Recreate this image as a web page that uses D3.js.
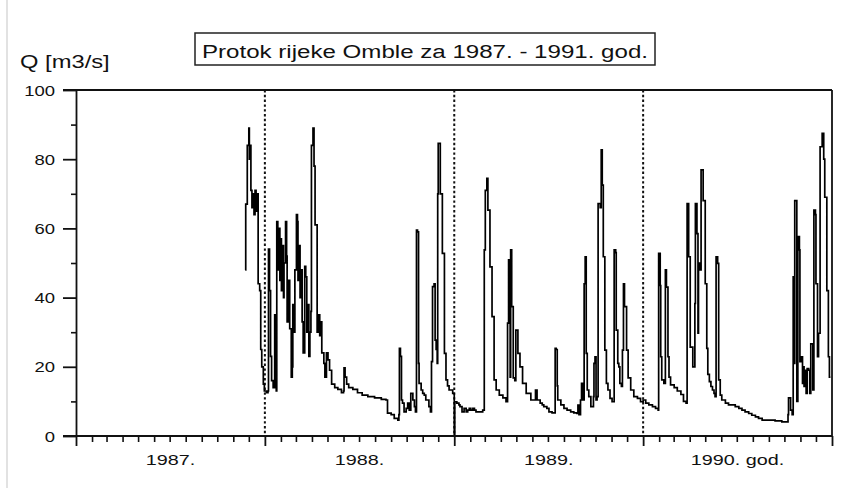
<!DOCTYPE html>
<html><head><meta charset="utf-8">
<script src="https://cdn.jsdelivr.net/npm/d3@7"></script>
<style>
body{margin:0;background:#fff}
svg{display:block}
text{font-family:"Liberation Sans",Arial,sans-serif;fill:#111}
</style>
</head><body><svg id="c" width="851" height="488"></svg>
<script>
// ---- data ----
const chartTitle = "Protok rijeke Omble za 1987. - 1991. god.";
const yAxisTitle = "Q [m3/s]";
const yMajorTicks = [0, 20, 40, 60, 80, 100];
const yMinorTicks = [10, 30, 50, 70, 90];
const yearStarts = [1987, 1988, 1989, 1990, 1991];
const yearLabels = ["1987.", "1988.", "1989.", "1990. god."];
const dividerYears = [1988, 1989, 1990];
// days since 1 Jan 1987 (step points) and discharge Q [m3/s]
const dayOffset = [
327,328,331,334,335,336,338,340,342,344,346,348,350,352,355,357,359,362,364,368,371,372,374,376,378,381,384,385,387,388,390,392,394,395,397,399,401,402,405,407,408,410,413,416,418,419,421,423,426,428,429,431,433,435,437,439,442,444,446,448,450,452,454,455,458,460,462,466,468,471,473,475,479,481,484,487,490,494,500,506,513,517,518,520,523,527,535,544,553,564,577,590,
599,602,609,615,622,624,625,627,629,631,634,638,641,644,647,651,654,656,658,660,662,663,667,670,673,676,682,685,687,689,692,694,696,698,699,700,704,708,712,715,718,721,728,731,732,736,740,742,746,750,754,757,760,763,767,770,773,779,786,789,791,794,796,800,804,808,812,818,825,831,834,836,839,840,842,845,848,850,854,858,863,870,879,
885,888,891,897,901,904,910,914,920,926,928,930,931,937,943,949,956,962,968,970,972,975,977,980,982,984,986,988,991,995,1000,1001,1003,1005,1007,1009,1013,1015,1017,1019,1022,1025,1028,1032,1036,1040,1043,1044,1047,1049,1051,1054,1056,1058,1060,1064,1067,1072,1078,1085,1091,1096,1101,1107,1114,1120,1125,1126,1129,1130,1132,1136,1139,1141,1144,1146,1149,1156,1162,1169,1174,1179,
1181,1184,1187,1192,1196,1197,1200,1202,1203,1206,1208,1212,1216,1219,1221,1224,1227,1230,1233,1235,1237,1240,1242,1245,1248,1255,1261,1268,1274,1281,1287,1293,1300,1306,1313,1319,1326,1339,1351,1364,1375,1376,1377,1381,1384,1386,1388,1389,1393,1395,1398,1399,1402,1404,1406,1407,1409,1411,1413,1416,1418,1420,1424,1426,1429,1430,1433,1435,1438,1442,1445,1447,1451,1454,1456,1458
];
const flow = [
48,67,84,89,80,84,71,66,70,64,71,65,70,44,42,25,20,15,13,12.5,13,54,42,23,16,14,35,15,13,62,48,60,45,57,42,55,40,50,62,52,33,45,31,17,20,38,30,48,64,62,45,55,40,48,33,24,49,46,30,38,23,30,36,84,89,78,61,30,35,29,33,24,21,17,24,22,19,15,14,13.5,12.5,13,19.7,17,15,14,13.5,12.5,11.8,11.4,11,10.6,
10.4,6.6,6.2,5.1,4.6,6.2,25.3,23,10.4,9.5,7,8,9.5,7.5,12.3,10.4,8.5,7,59.5,59,21,15.2,13.3,12.3,11.8,10.4,8.5,7,21.5,43.2,44,27.7,25,21,70,84.6,70,52.8,23.9,16.2,14.5,13.3,12.3,0,9.9,9.5,9,8.5,7,8,7,7.5,8,7.5,8,7.5,7,7,7.5,53.8,71,74.5,65.3,48.9,34.5,16.2,13.3,11.8,11,9.9,32.6,50.9,17,53.8,37.4,16.8,16,30.6,23.9,20,15.2,12.3,10.4,
10.4,13.3,10.4,9.5,9,8.5,8,7,6.7,25.3,25,14.5,10.4,9,8,7.5,7,6.7,6.5,8.9,6.2,10.4,15.2,10.4,44,51.8,23.9,13.3,11.4,8.5,11.4,21,22.9,10.4,11.4,67.2,66,82.7,72.5,51.8,24.8,15.2,13.3,10.9,9.9,53.8,53,30.6,21,20,15.2,14.3,24.8,44,37.4,24.8,16.8,13.3,11.4,10.9,9.9,10.4,9.5,9,8.5,8,7.5,52.8,43.5,22.9,16.2,15.2,48,43,22.9,17,14.8,14,13,12,10,9.5,
67.2,51.8,25.7,20,38.3,67.2,58.5,29.7,50,48,76.9,68,44,25.3,17.8,15.7,14.3,13.3,12.3,11.4,51.8,49.9,16.2,11.8,10.4,9.5,9,9,8.5,8,7.5,7,6.5,6,5.5,5.1,4.6,4.6,4.4,4.1,4.1,6.2,11,7.5,6.2,46,21,68,10,57.6,53.8,21.5,22.9,15.2,20,14.3,19,12.3,19.5,19,12.3,26.6,13.3,65.3,64,44,22.9,29.7,83.6,87.5,80,69,42,22.9,17,17
];

// ---- chart ----
const svg = d3.select("#c");
const L = 76, R = 832, T = 90, B = 436;
const SX = 1.32; // horizontal stretch of the original lettering
const ink = "#111";

svg.append("rect").attr("width", 851).attr("height", 488).attr("fill", "#fff");
svg.append("line").attr("x1", 7).attr("x2", 7).attr("y1", 0).attr("y2", 488)
  .attr("stroke", "#e2e2e2").attr("stroke-width", 2);

const yr = v => new Date(Date.UTC(v, 0, 1));
const x = d3.scaleUtc().domain([yr(1987), yr(1991)]).range([L, R]);
const y = d3.scaleLinear().domain([0, 100]).range([B, T]);

const base = yr(1987);
const data = dayOffset.map((d, i) => ({ date: d3.utcDay.offset(base, d), q: flow[i] }));

// year dividers (dotted)
svg.append("g").selectAll("line").data(dividerYears).join("line")
  .attr("x1", d => x(yr(d))).attr("x2", d => x(yr(d)))
  .attr("y1", T).attr("y2", B)
  .attr("stroke", ink).attr("stroke-width", 2).attr("stroke-dasharray", "2.4,2.4");

// data line
svg.append("path").datum(data)
  .attr("fill", "none").attr("stroke", "#000").attr("stroke-width", 1.7)
  .attr("stroke-linejoin", "miter")
  .attr("d", d3.line().x(d => x(d.date)).y(d => y(d.q)).curve(d3.curveStepAfter));

// frame: top & right
svg.append("line").attr("x1", L - 13).attr("x2", R).attr("y1", T).attr("y2", T)
  .attr("stroke", ink).attr("stroke-width", 1.8);
svg.append("line").attr("x1", R).attr("x2", R).attr("y1", T).attr("y2", B)
  .attr("stroke", ink).attr("stroke-width", 1.8);

// y axis
const gy = svg.append("g").attr("transform", `translate(${L},0)`)
  .call(d3.axisLeft(y).tickValues(yMajorTicks).tickSize(13).tickSizeOuter(0).tickPadding(8));
gy.select(".domain").attr("stroke", ink).attr("stroke-width", 1.8);
gy.selectAll(".tick line").attr("stroke", ink).attr("stroke-width", 1.8);
gy.selectAll(".tick text")
  .attr("x", 0).attr("dy", "0.36em")
  .attr("transform", `translate(-21,0) scale(${SX},1)`)
  .style("font-size", "14px").attr("fill", ink).attr("font-family", null);
const gym = svg.append("g").attr("transform", `translate(${L},0)`)
  .call(d3.axisLeft(y).tickValues(yMinorTicks).tickSize(5).tickFormat(""));
gym.select(".domain").remove();
gym.selectAll(".tick line").attr("stroke", ink).attr("stroke-width", 1.6);

// x axis
const gx = svg.append("g").attr("transform", `translate(0,${B})`)
  .call(d3.axisBottom(x).tickValues(yearStarts.map(yr)).tickSize(10).tickSizeOuter(0).tickFormat(""));
gx.select(".domain").attr("stroke", ink).attr("stroke-width", 1.8)
  .attr("d", `M${L - 13},0H${R}`);
gx.selectAll(".tick line").attr("stroke", ink).attr("stroke-width", 1.8);
const months = d3.utcMonth.range(yr(1987), yr(1991)).filter(d => d.getUTCMonth() !== 0);
const gxm = svg.append("g").attr("transform", `translate(0,${B})`)
  .call(d3.axisBottom(x).tickValues(months).tickSize(6).tickFormat(""));
gxm.select(".domain").remove();
gxm.selectAll(".tick line").attr("stroke", ink).attr("stroke-width", 1.6);

// year labels
svg.append("g").selectAll("text").data(yearLabels).join("text")
  .attr("transform", (d, i) => {
    const mid = new Date((yr(1987 + i).getTime() + yr(1988 + i).getTime()) / 2);
    return `translate(${x(mid)},465) scale(${SX},1)`;
  })
  .attr("text-anchor", "middle").style("font-size", "15px").text(d => d);

// y title
svg.append("text").attr("transform", `translate(20,68) scale(${SX},1)`)
  .style("font-size", "18px").text(yAxisTitle);

// title box
svg.append("rect").attr("x", 195).attr("y", 33).attr("width", 460).attr("height", 32)
  .attr("fill", "#fff").attr("stroke", "#222").attr("stroke-width", 1.5);
svg.append("text").attr("x", 202).attr("y", 58)
  .attr("textLength", 446).attr("lengthAdjust", "spacingAndGlyphs")
  .style("font-size", "18px").text(chartTitle);
</script>
</body></html>
